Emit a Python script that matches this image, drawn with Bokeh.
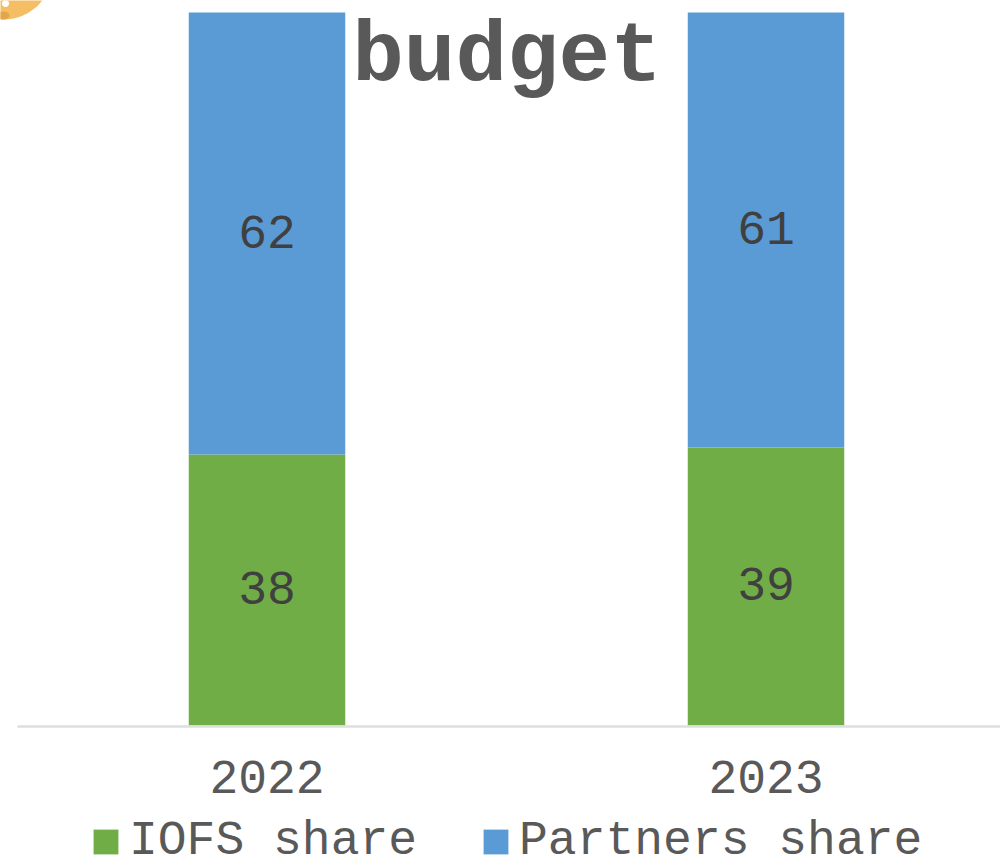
import numpy as np
from bokeh.plotting import figure
from bokeh.models import Range1d, FixedTicker, Legend, LegendItem, ColumnDataSource
from bokeh.core.properties import value
from bokeh.embed import file_html
from bokeh.resources import INLINE

years = [2022, 2023]
iofs_share = [38, 39]
partners_share = [62, 61]
title_text = ["budget"]
GREEN, BLUE = "#70AD47", "#5B9BD5"
MONO = "Liberation Mono"

PX_X = 499.0          # pixels per year
X0 = 2021.5 - 17 / PX_X
PX_Y = 7.13           # pixels per percent
FRAME_H = 859

def xpx(px): return X0 + px / PX_X
def ypx(px): return (725 - px) / PX_Y

def blob(cx, cy, rx, ry, color):
    t = np.linspace(0, 2 * np.pi, 120)
    p.patch(xpx(cx + rx * np.cos(t)), ypx(cy + ry * np.sin(t)), fill_color=color, line_color=None)

p = figure(width=1000, height=859, output_backend="svg", toolbar_location=None,
           x_range=Range1d(X0, xpx(1000)), y_range=Range1d(ypx(FRAME_H), ypx(0)),
           frame_width=1000, frame_height=FRAME_H,
           min_border_left=0, min_border_right=0, min_border_top=0, min_border_bottom=0,
           outline_line_color=None, background_fill_color="white",
           border_fill_color="white")
p.grid.visible = False
p.yaxis.visible = False

ax = p.xaxis[0]
ax.fixed_location = ypx(727)
ax.ticker = FixedTicker(ticks=years)
ax.axis_line_color = None
ax.major_tick_line_color = None
ax.minor_tick_line_color = None
ax.major_label_text_font = MONO
ax.major_label_text_font_size = "48px"
ax.major_label_text_color = "#595959"
ax.major_label_standoff = 27
ax.major_label_overrides = {y: str(y) for y in years}

# decorative icon cut off in the top-left corner
blob(3, -30, 49, 49, "#F5BE62")
blob(5, 3, 3.5, 3.5, "white")
blob(3, 15, 6, 4, "#E0A84A")

src = ColumnDataSource(dict(x=years, iofs=iofs_share, partners=partners_share,
                            total=[a + b for a, b in zip(iofs_share, partners_share)],
                            mid1=[a / 2 for a in iofs_share],
                            mid2=[a + b / 2 for a, b in zip(iofs_share, partners_share)],
                            l1=[str(a) for a in iofs_share], l2=[str(b) for b in partners_share]))
W = 156.5 / PX_X
r1 = p.vbar(x="x", bottom=0, top="iofs", width=W, fill_color=GREEN, line_color=None, source=src)
r2 = p.vbar(x="x", bottom="iofs", top="total", width=W, fill_color=BLUE, line_color=None, source=src)

p.line([xpx(17), xpx(1000)], [ypx(726), ypx(726)], line_color="#DEDEDE", line_width=2.5)

for m, t in (("mid1", "l1"), ("mid2", "l2")):
    p.text(x="x", y=m, text=t, source=src, text_font=value(MONO), text_font_size="48px",
           text_color="#404040", text_align="center", text_baseline="middle", y_offset=-2)

p.text(x=[xpx(506.5)], y=[ypx(56)], text=title_text, text_font=value(MONO), text_font_size="86px",
       text_font_style="bold", text_color="#595959", text_align="center", text_baseline="middle")

legend = Legend(items=[LegendItem(label="IOFS share", renderers=[r1]),
                       LegendItem(label="Partners share", renderers=[r2])],
                orientation="horizontal", location=(90, -9), border_line_color=None,
                background_fill_alpha=0, glyph_width=31, glyph_height=31,
                label_text_font=MONO, label_text_font_size="48px", label_text_color="#595959",
                spacing=63, padding=0, margin=0, label_standoff=8, label_height=25)
p.add_layout(legend, "center")

open("out.html", "w").write(file_html(p, INLINE))
